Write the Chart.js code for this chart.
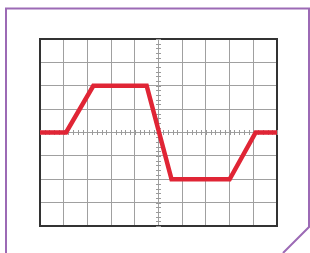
<!DOCTYPE html>
<html>
<head>
<meta charset="utf-8">
<script src="https://cdn.jsdelivr.net/npm/chart.js@4"></script>
<style>
  html, body { margin: 0; padding: 0; background: #fff; }
  #wrap { position: relative; width: 310px; height: 253px; }
  #frame { position: absolute; left: 0; top: 0; }
  canvas { position: absolute; left: 0; top: 0; }
</style>
</head>
<body>
<div id="wrap">
  <svg id="frame" width="310" height="253">
    <polyline points="6,253 6,8.5 309,8.5 309,227 283,253" fill="none" stroke="#9c6ab5" stroke-width="2"/>
  </svg>
  <canvas id="scope" width="310" height="253"></canvas>
</div>
<script>
// waveform, in divisions (x: 0..10, y: -4..4)
const waveX = [0, 1.1, 2.25, 4.5, 5.55, 8.0, 9.1, 10];
const waveY = [0, 0, 2, 2, -2, -2, 0, 0];

const xDivs = [0, 10];
const yDivs = [-4, 4];
const minorStep = 0.2;

const points = waveX.map((x, i) => ({ x: x, y: waveY[i] }));

// little graticule ticks along the two centre lines
const centreTicks = {
  id: 'centreTicks',
  beforeDatasetsDraw(chart) {
    const { ctx, scales: { x, y } } = chart;
    const cx = x.getPixelForValue(5);
    const cy = y.getPixelForValue(0);
    ctx.save();
    ctx.strokeStyle = '#9a9a9a';
    ctx.lineWidth = 1;
    ctx.beginPath();
    for (let v = xDivs[0]; v <= xDivs[1] + 1e-6; v += minorStep) {
      const px = Math.round(x.getPixelForValue(v)) + 0.5;
      ctx.moveTo(px, cy - 2.5);
      ctx.lineTo(px, cy + 2.5);
    }
    for (let v = yDivs[0]; v <= yDivs[1] + 1e-6; v += minorStep) {
      const py = Math.round(y.getPixelForValue(v)) + 0.5;
      ctx.moveTo(cx - 2.5, py);
      ctx.lineTo(cx + 2.5, py);
    }
    ctx.stroke();
    ctx.restore();
  }
};

new Chart(document.getElementById('scope'), {
  type: 'scatter',
  data: {
    datasets: [{
      data: points,
      showLine: true,
      borderColor: '#e02535',
      borderWidth: 4.5,
      pointRadius: 0,
      borderJoinStyle: 'miter',
      clip: false
    }]
  },
  options: {
    responsive: false,
    animation: false,
    layout: { padding: { left: 40, right: 33, top: 39, bottom: 27 } },
    plugins: { legend: { display: false }, tooltip: { enabled: false } },
    scales: {
      x: {
        type: 'linear', min: xDivs[0], max: xDivs[1],
        ticks: { display: false, stepSize: 1 },
        grid: { color: '#a0a0a0', lineWidth: 1, drawTicks: false },
        border: { color: '#333', width: 2 }
      },
      y: {
        type: 'linear', min: yDivs[0], max: yDivs[1],
        ticks: { display: false, stepSize: 1 },
        grid: { color: '#a0a0a0', lineWidth: 1, drawTicks: false },
        border: { color: '#333', width: 2 }
      },
      x2: {
        type: 'linear', position: 'top', min: xDivs[0], max: xDivs[1],
        ticks: { display: false }, grid: { display: false, drawTicks: false },
        border: { color: '#333', width: 2 }
      },
      y2: {
        type: 'linear', position: 'right', min: yDivs[0], max: yDivs[1],
        ticks: { display: false }, grid: { display: false, drawTicks: false },
        border: { color: '#333', width: 2 }
      }
    }
  },
  plugins: [centreTicks]
});
</script>
</body>
</html>
